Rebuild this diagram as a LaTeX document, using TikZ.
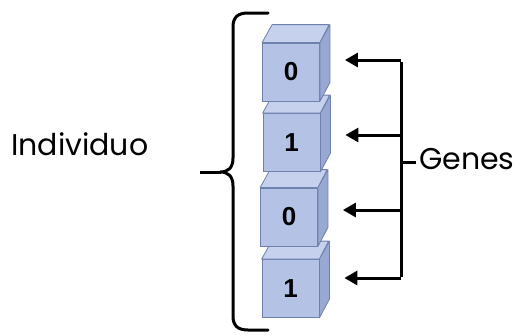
\documentclass[tikz,border=0pt]{standalone}
\usepackage{fontspec}
\setmainfont{Poppins}
\newfontfamily\digitfont{Liberation Sans}
\usetikzlibrary{arrows.meta,positioning}
\definecolor{cubefront}{HTML}{B3C2E5}
\definecolor{cubetop}{HTML}{C6D1EE}
\definecolor{cubeside}{HTML}{97A8D2}
\definecolor{cubeedge}{HTML}{6E80AC}
\begin{document}
\begin{tikzpicture}[x=1pt, y=-1pt]
	\useasboundingbox (0,0) rectangle (522,335);
	\tikzstyle{genbox} = [rectangle, draw=cubeedge, fill=cubefront, line width=0.8pt, minimum width=57pt, minimum height=58pt, inner sep=0pt, font=\fontsize{26}{26}\selectfont\digitfont\bfseries]
	\tikzstyle{topface} = [draw=cubeedge, fill=cubetop, line width=0.8pt, line join=round]
	\tikzstyle{sideface} = [draw=cubeedge, fill=cubeside, line width=0.8pt, line join=round]
	\tikzstyle{thick line} = [line width=3pt]
	\tikzstyle{genarrow} = [thick line, -{Triangle[length=13pt, width=14pt]}]
	\tikzstyle{bigtext} = [font=\fontsize{30}{30}\selectfont, inner sep=0pt]
	
	% cubes, drawn from the bottom up
	\node[genbox] (G4) at (290.5,288.5) {1};
	\draw[topface] (G4.north west) -- ++(10,-18) -- ++(57,0) -- (G4.north east) -- cycle;
	\draw[sideface] (G4.north east) -- ++(10,-18) -- ++(0,58) -- (G4.south east) -- cycle;
	
	\node[genbox] (G3) at (289,217) {0};
	\draw[topface] (G3.north west) -- ++(10,-18) -- ++(57,0) -- (G3.north east) -- cycle;
	\draw[sideface] (G3.north east) -- ++(10,-18) -- ++(0,58) -- (G3.south east) -- cycle;
	
	\node[genbox] (G2) at (291.5,142.5) {1};
	\draw[topface] (G2.north west) -- ++(10,-18) -- ++(57,0) -- (G2.north east) -- cycle;
	\draw[sideface] (G2.north east) -- ++(10,-18) -- ++(0,58) -- (G2.south east) -- cycle;
	
	\node[genbox] (G1) at (291,72) {0};
	\draw[topface] (G1.north west) -- ++(10,-18) -- ++(57,0) -- (G1.north east) -- cycle;
	\draw[sideface] (G1.north east) -- ++(10,-18) -- ++(0,58) -- (G1.south east) -- cycle;
	
	% brace
	\draw[thick line, line cap=round] (268,13) -- (248,13) .. controls (238,13) and (233,17) .. (233,27)
	-- (233,158) .. controls (233,168) and (228,172) .. (220,172)
	.. controls (228,172) and (233,176) .. (233,186)
	-- (233,316) .. controls (233,326) and (238,330) .. (248,330) -- (268,330);
	\draw[thick line] (221,172) -- (200,172);
	\node[bigtext, anchor=base west] (indiv) at (11,155) {Individuo};
	
	% genes
	\coordinate (A1) at (401,60);
	\coordinate (A2) at (401,135);
	\coordinate (A3) at (401,210);
	\coordinate (A4) at (401,278);
	\coordinate (Am) at (401,162);
	\node[bigtext, anchor=base west] (genes) at (419,169) {Genes};
	
	\draw[thick line] ([yshift=-1.5pt]A1) -- ([yshift=1.5pt]A4);
	\draw[genarrow] (A1) -- ([xshift=25pt]G1.east |- A1);
	\draw[genarrow] (A2) -- ([xshift=25pt]G2.east |- A2);
	\draw[genarrow] (A3) -- ([xshift=25pt]G3.east |- A3);
	\draw[genarrow] (A4) -- ([xshift=25pt]G4.east |- A4);
	\draw[thick line] (Am) -- ([xshift=-3pt]Am -| genes.west);
\end{tikzpicture}
\end{document}
